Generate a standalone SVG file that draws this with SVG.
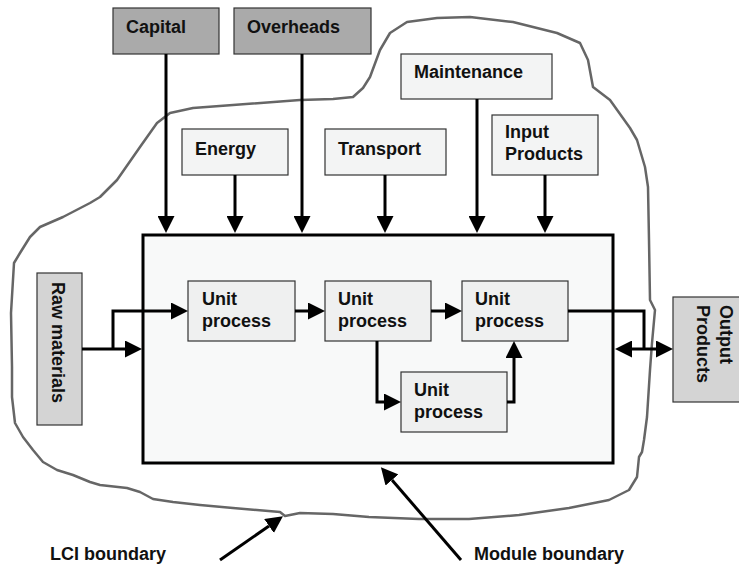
<svg xmlns="http://www.w3.org/2000/svg" width="739" height="566" viewBox="0 0 739 566">
<style>
.t{font-family:"Liberation Sans",Arial,sans-serif;font-weight:bold;font-size:18px;fill:#111}
.dark{fill:#aaaaaa;stroke:#333;stroke-width:1.2}
.mid{fill:#d4d4d4;stroke:#333;stroke-width:1.2}
.lite{fill:#f3f4f4;stroke:#333;stroke-width:1.2}
.unit{fill:#eff0f0;stroke:#333;stroke-width:1.2}
.c{fill:none;stroke:#000;stroke-width:3}
</style>
<defs>
<marker id="ah" viewBox="0 0 17 17" markerWidth="17" markerHeight="17" markerUnits="userSpaceOnUse" refX="0" refY="8.5" orient="auto-start-reverse">
<path d="M0,0 L17,8.5 L0,17 Z" fill="#000"/>
</marker>
</defs>
<path id="lci-boundary" d="M437,18 L470,17 L513,22 L557,33 L580,43 L588,60 L593,87 L610,100 L630,128 L637,140 L645,167 L648,187 L649,240 L650,300 L655,310 L652,343 L650,370 L647,417 L644,440 L642,452 L639,457 L637,477 L629,490 L609,500 L569,508 L519,515 L469,519 L419,519 L369,517 L333,514 L300,513 L285,516 L280,512 L233,508 L200,505 L173,502 L153,499 L140,492 L127,488 L100,485 L90,482 L73,475 L57,470 L43,462 L33,450 L23,437 L15,423 L12,397 L12,367 L11,313 L14,263 L20,253 L30,237 L40,227 L63,217 L90,203 L100,197 L117,180 L140,147 L157,123 L170,113 L193,108 L233,105 L300,100 L333,99 L353,97 L363,88 L370,77 L380,50 L390,33 L407,22 Z" fill="none" stroke="#666" stroke-width="2.5" stroke-linejoin="round"/>
<g id="module"><rect x="143" y="235" width="470" height="228" fill="#f8f9f9" stroke="#000" stroke-width="3"/></g>
<g id="capital"><rect class="dark" x="113" y="8" width="106" height="46"/><text class="t" x="126" y="33">Capital</text></g>
<g id="overheads"><rect class="dark" x="234" y="8" width="137" height="46"/><text class="t" x="247" y="33">Overheads</text></g>
<g id="energy"><rect class="lite" x="182" y="129" width="106" height="46"/><text class="t" x="195" y="155">Energy</text></g>
<g id="transport"><rect class="lite" x="325" y="129" width="121" height="46"/><text class="t" x="338" y="155">Transport</text></g>
<g id="maintenance"><rect class="lite" x="401" y="54" width="151" height="45"/><text class="t" x="414" y="78">Maintenance</text></g>
<g id="input-products"><rect class="lite" x="492" y="115" width="106" height="60"/><text class="t" x="505" y="138">Input</text><text class="t" x="505" y="160">Products</text></g>
<g id="raw-materials"><rect class="mid" x="37" y="273" width="45" height="152"/><text class="t" transform="translate(52,282) rotate(90)">Raw materials</text></g>
<g id="output-products"><rect class="mid" x="673" y="297" width="70" height="105"/><text class="t" transform="translate(720,305) rotate(90)">Output</text><text class="t" transform="translate(697,305) rotate(90)">Products</text></g>
<g id="unit1"><rect class="unit" x="188" y="281" width="107" height="60"/><text class="t" x="202" y="305">Unit</text><text class="t" x="202" y="327">process</text></g>
<g id="unit2"><rect class="unit" x="325" y="281" width="106" height="60"/><text class="t" x="338" y="305">Unit</text><text class="t" x="338" y="327">process</text></g>
<g id="unit3"><rect class="unit" x="462" y="281" width="106" height="60"/><text class="t" x="475" y="305">Unit</text><text class="t" x="475" y="327">process</text></g>
<g id="unit4"><rect class="unit" x="401" y="372" width="106" height="60"/><text class="t" x="414" y="396">Unit</text><text class="t" x="414" y="418">process</text></g>
<g id="connectors">
<path class="c" d="M166,54 V216" marker-end="url(#ah)"/>
<path class="c" d="M235,175 V216" marker-end="url(#ah)"/>
<path class="c" d="M302,54 V216" marker-end="url(#ah)"/>
<path class="c" d="M385,175 V216" marker-end="url(#ah)"/>
<path class="c" d="M477,99 V216" marker-end="url(#ah)"/>
<path class="c" d="M545,175 V216" marker-end="url(#ah)"/>
<path class="c" d="M82,349 H125" marker-end="url(#ah)"/>
<path class="c" d="M113,349 V311 H171" marker-end="url(#ah)"/>
<path class="c" d="M295,311 H308" marker-end="url(#ah)"/>
<path class="c" d="M431,311 H445" marker-end="url(#ah)"/>
<path class="c" d="M377,341 V402 H384" marker-end="url(#ah)"/>
<path class="c" d="M507,402 H514 V358" marker-end="url(#ah)"/>
<path class="c" d="M568,311 H644 V349"/>
<path class="c" d="M632,349 H656" marker-start="url(#ah)" marker-end="url(#ah)"/>
<path class="c" d="M220,560 L269,526" marker-end="url(#ah)"/>
<path class="c" d="M461,560 L392,480" marker-end="url(#ah)"/>
</g>
<text class="t" x="50" y="560">LCI boundary</text>
<text class="t" x="474" y="560">Module boundary</text>
</svg>
